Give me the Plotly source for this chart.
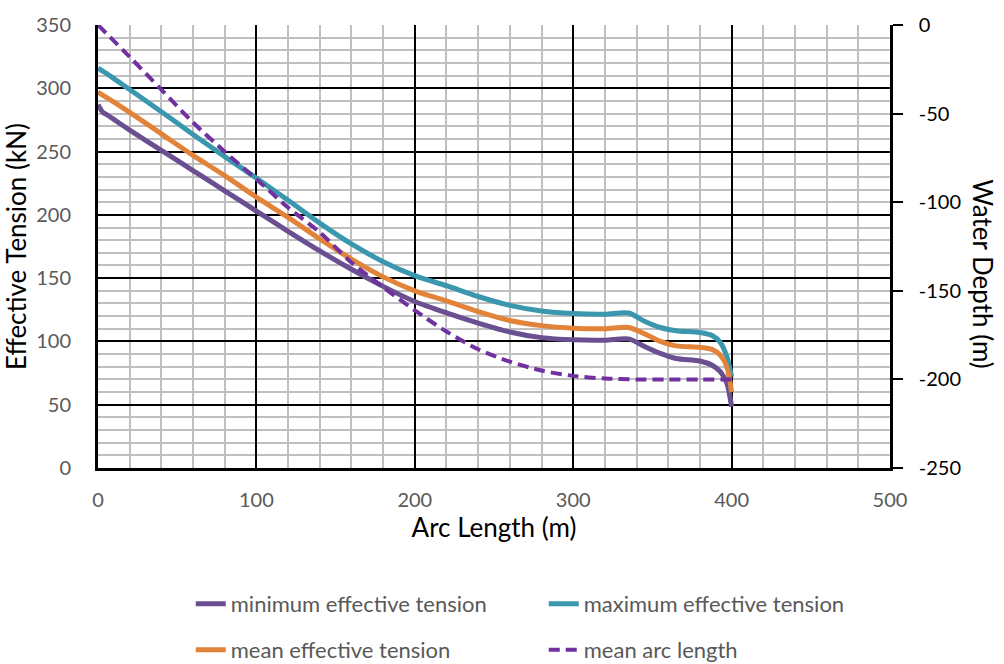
import plotly.graph_objects as go

# ---- data ----
arc_x = [0, 3, 5, 20, 40, 60, 80, 100, 120, 140, 160, 180, 200, 220, 240, 260, 280,
         300, 320, 335, 345, 355, 365, 380, 388, 393, 397, 400]
min_tension = [287, 281, 279.5, 267, 251, 235, 219, 203, 187, 171.5, 157, 143.5, 131.5,
               122.5, 114.5, 107.5, 103, 101.3, 101, 102, 96, 90.5, 86.5, 84.5, 81, 76, 67, 48.5]
max_tension = [316, 313.5, 312, 299, 281.5, 263.5, 246, 229, 211.5, 193.5, 177, 163, 152,
               144, 135.5, 128.5, 124, 122, 121.5, 122.5, 116, 111, 108.5, 107, 104.5, 99, 88, 72]
mean_tension = [297, 294.5, 293, 281, 264, 247, 231, 214, 198, 181, 165, 151, 140,
                132, 123.5, 116.5, 112.5, 110.5, 110, 111, 106, 100, 96.5, 95.3, 93.5, 89, 80, 60]

depth_x = [0, 20, 40, 60, 80, 100, 120, 140, 160, 180, 200, 220, 240, 260, 280, 300,
           320, 340, 360, 380, 400]
mean_arc_depth = [0, -18, -36.5, -55, -71.5, -87, -103, -117, -134, -148, -161, -173,
                  -183, -190, -195, -198, -199.5, -200, -200, -200, -200]

x_ticks = [0, 100, 200, 300, 400, 500]
left_ticks = [0, 50, 100, 150, 200, 250, 300, 350]
right_ticks = [0, -50, -100, -150, -200, -250]
right_tick_text = ["0", "-50", "-100", "-150", "-200", "-250"]

FONT = "Lato"
GREY = "#595959"

fig = go.Figure()
fig.add_trace(go.Scatter(x=arc_x, y=min_tension, mode="lines", name="minimum effective tension",
                         line=dict(color="#6a4f91", width=5, shape="spline", smoothing=0.8),
                         legend="legend"))
fig.add_trace(go.Scatter(x=arc_x, y=max_tension, mode="lines", name="maximum effective tension",
                         line=dict(color="#3a97ad", width=5, shape="spline", smoothing=0.8),
                         legend="legend"))
fig.add_trace(go.Scatter(x=arc_x, y=mean_tension, mode="lines", name="mean effective tension",
                         line=dict(color="#e2833a", width=5, shape="spline", smoothing=0.8),
                         legend="legend2"))
fig.add_trace(go.Scatter(x=depth_x, y=mean_arc_depth, mode="lines", name="mean arc length",
                         yaxis="y2",
                         line=dict(color="#7030a0", width=4, dash="11px,6px", shape="spline",
                                   smoothing=0.8),
                         legend="legend2"))

fig.update_layout(
    width=1004, height=664,
    margin=dict(l=98, r=114, t=20, b=196),
    paper_bgcolor="white", plot_bgcolor="white",
    font=dict(family=FONT, size=20, color=GREY),
    xaxis=dict(range=[0, 500], tickvals=x_ticks, showgrid=True, gridcolor="black", gridwidth=2,
               minor=dict(dtick=20, showgrid=True, gridcolor="#bfbfbf", gridwidth=2),
               zeroline=False, showline=True, linecolor="black", linewidth=3,
               ticks="", ticklabelstandoff=12,
               tickfont=dict(family=FONT, size=20, color=GREY),
               title=dict(text="Arc Length (m)", font=dict(family=FONT, size=26, color="black"),
                          standoff=6)),
    yaxis=dict(range=[0, 350], tickvals=left_ticks, showgrid=True, gridcolor="black", gridwidth=2,
               minor=dict(dtick=10, showgrid=True, gridcolor="#bfbfbf", gridwidth=2),
               zeroline=False, showline=True, linecolor="black", linewidth=3,
               ticks="", ticklabelstandoff=20,
               tickfont=dict(family=FONT, size=20, color=GREY),
               title=dict(text="Effective Tension (kN)", font=dict(family=FONT, size=26, color="black"),
                          standoff=6)),
    yaxis2=dict(range=[-250, 0], tickvals=right_ticks, ticktext=right_tick_text,
                overlaying="y", side="right",
                showgrid=False, zeroline=False, showline=True, linecolor="black", linewidth=2.5,
                ticks="outside", ticklen=10, tickwidth=2, tickcolor="black",
                ticklabelstandoff=12,
                tickfont=dict(family=FONT, size=20, color="black")),
    legend=dict(orientation="h", xref="container", yref="container", x=0.19, y=1 - 604 / 664,
                xanchor="left", yanchor="middle", entrywidth=308, entrywidthmode="pixels",
                font=dict(family=FONT, size=22, color=GREY), bgcolor="rgba(0,0,0,0)"),
    legend2=dict(orientation="h", xref="container", yref="container", x=0.19, y=1 - 650 / 664,
                 xanchor="left", yanchor="middle", entrywidth=308, entrywidthmode="pixels",
                 font=dict(family=FONT, size=22, color=GREY), bgcolor="rgba(0,0,0,0)"),
    annotations=[dict(text="Water Depth (m)", xref="paper", yref="paper",
                      x=(983 - 98) / 792, y=(468 - 272) / 448, showarrow=False, textangle=90,
                      font=dict(family=FONT, size=26, color="black"),
                      xanchor="center", yanchor="middle")],
)

fig.write_html("out.html")
